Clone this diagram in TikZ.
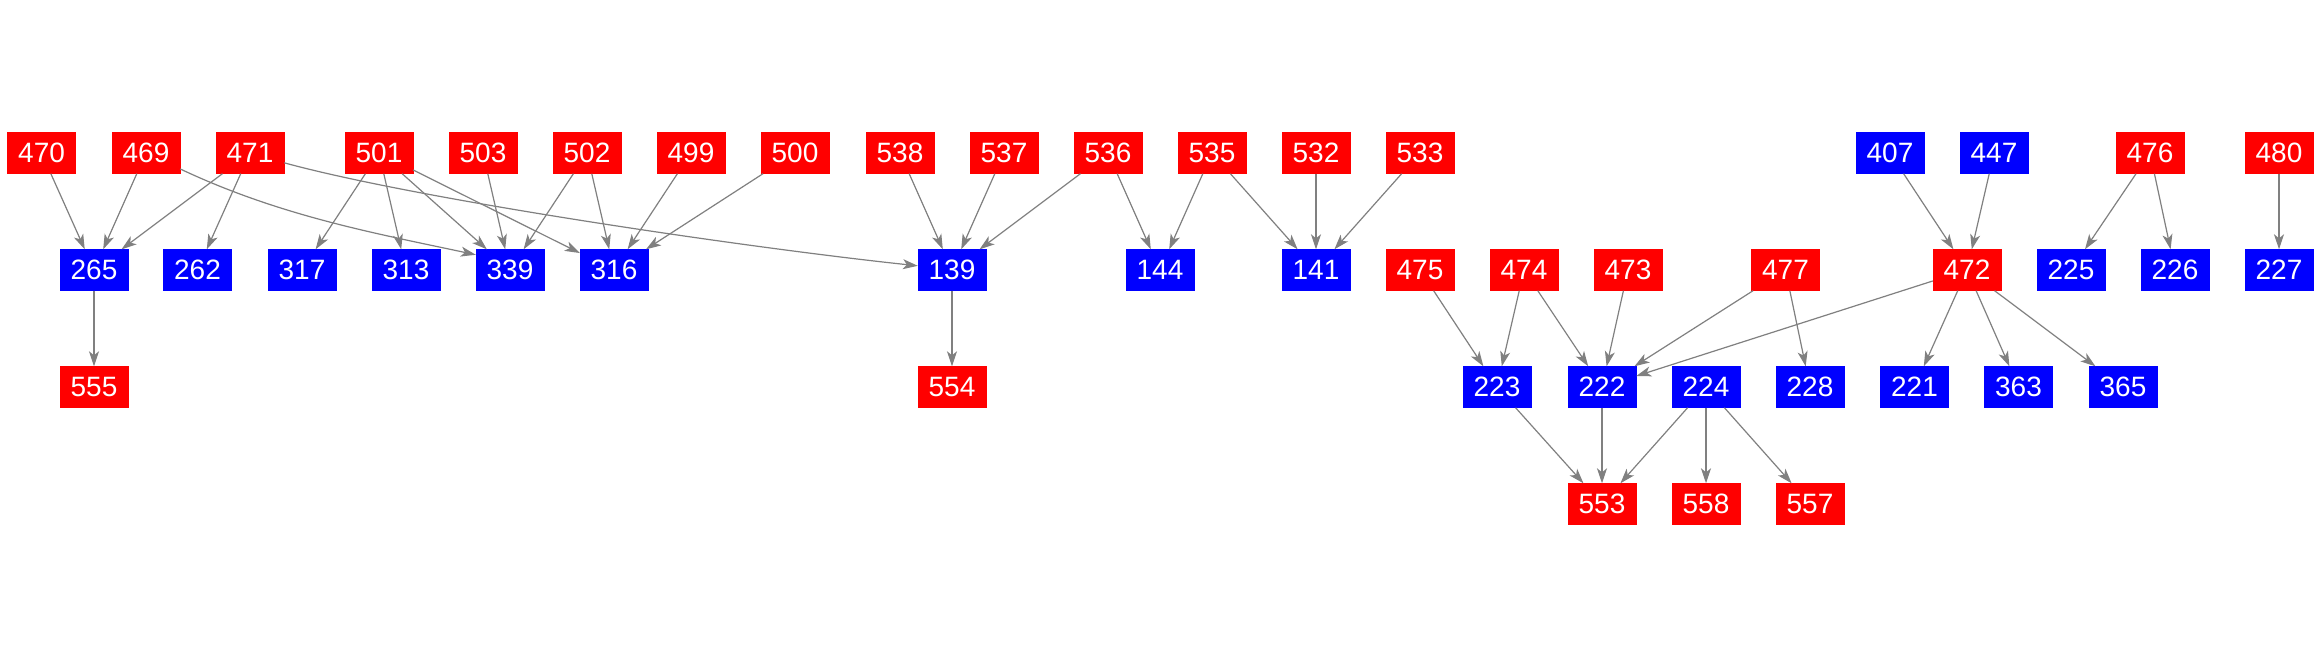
\documentclass[tikz,border=0pt]{standalone}
\usepackage{fontspec}
\setmainfont{Liberation Sans}
\usetikzlibrary{arrows.meta}
\tikzset{
  box/.style={minimum width=68pt, minimum height=41pt, inner sep=0pt, text=white, font=\fontsize{28}{28}\selectfont},
  rb/.style={box, fill=red, draw=red},
  bb/.style={box, fill=blue, draw=blue},
  e/.style={draw=gray, line width=1.2pt, -{Stealth[length=15pt,width=10pt,inset=4pt,fill=gray]}}
}
\begin{document}
\begin{tikzpicture}[x=1pt,y=-1pt]
\useasboundingbox[fill=white] (0,0) rectangle (2321,656);
% row 1
\node[rb] (n470) at (41.6,153) {470};
\node[rb] (n469) at (146,153) {469};
\node[rb] (n471) at (250,153) {471};
\node[rb] (n501) at (379,153) {501};
\node[rb] (n503) at (483,153) {503};
\node[rb] (n502) at (587,153) {502};
\node[rb] (n499) at (691,153) {499};
\node[rb] (n500) at (795,153) {500};
\node[rb] (n538) at (900,153) {538};
\node[rb] (n537) at (1004,153) {537};
\node[rb] (n536) at (1108,153) {536};
\node[rb] (n535) at (1212,153) {535};
\node[rb] (n532) at (1316,153) {532};
\node[rb] (n533) at (1420,153) {533};
\node[bb] (n407) at (1890,153) {407};
\node[bb] (n447) at (1994,153) {447};
\node[rb] (n476) at (2150,153) {476};
\node[rb] (n480) at (2279,153) {480};
% row 2
\node[bb] (n265) at (94,270) {265};
\node[bb] (n262) at (197.5,270) {262};
\node[bb] (n317) at (302,270) {317};
\node[bb] (n313) at (406,270) {313};
\node[bb] (n339) at (510,270) {339};
\node[bb] (n316) at (614,270) {316};
\node[bb] (n139) at (952,270) {139};
\node[bb] (n144) at (1160,270) {144};
\node[bb] (n141) at (1316,270) {141};
\node[rb] (n475) at (1420,270) {475};
\node[rb] (n474) at (1524,270) {474};
\node[rb] (n473) at (1628,270) {473};
\node[rb] (n477) at (1785.5,270) {477};
\node[rb] (n472) at (1967,270) {472};
\node[bb] (n225) at (2071,270) {225};
\node[bb] (n226) at (2175,270) {226};
\node[bb] (n227) at (2279,270) {227};
% row 3
\node[rb] (n555) at (94,387) {555};
\node[rb] (n554) at (952,387) {554};
\node[bb] (n223) at (1497,387) {223};
\node[bb] (n222) at (1602,387) {222};
\node[bb] (n224) at (1706,387) {224};
\node[bb] (n228) at (1810,387) {228};
\node[bb] (n221) at (1914.5,387) {221};
\node[bb] (n363) at (2018.5,387) {363};
\node[bb] (n365) at (2123,387) {365};
% row 4
\node[rb] (n553) at (1602,504) {553};
\node[rb] (n558) at (1706,504) {558};
\node[rb] (n557) at (1810,504) {557};
% edges
\draw[e] (n470) -- (n265);
\draw[e] (n469) -- (n265);
\draw[e] (n469.-25) .. controls (280,216) and (374,233) .. (n339.156);
\draw[e] (n471) -- (n265);
\draw[e] (n471) -- (n262);
\draw[e] (n471.-16) .. controls (420,200) and (750,248) .. (n139.173);
\draw[e] (n501) -- (n317);
\draw[e] (n501) -- (n313);
\draw[e] (n501) -- (n339);
\draw[e] (n501) -- (n316);
\draw[e] (n503) -- (n339);
\draw[e] (n502) -- (n339);
\draw[e] (n502) -- (n316);
\draw[e] (n499) -- (n316);
\draw[e] (n500) -- (n316);
\draw[e] (n265) -- (n555);
\draw[e] (n538) -- (n139);
\draw[e] (n537) -- (n139);
\draw[e] (n536) -- (n139);
\draw[e] (n536) -- (n144);
\draw[e] (n535) -- (n144);
\draw[e] (n535) -- (n141);
\draw[e] (n532) -- (n141);
\draw[e] (n533) -- (n141);
\draw[e] (n139) -- (n554);
\draw[e] (n475) -- (n223);
\draw[e] (n474) -- (n223);
\draw[e] (n474) -- (n222);
\draw[e] (n473) -- (n222);
\draw[e] (n477) -- (n222);
\draw[e] (n477) -- (n228);
\draw[e] (n472) -- (n222);
\draw[e] (n472) -- (n221);
\draw[e] (n472) -- (n363);
\draw[e] (n472) -- (n365);
\draw[e] (n407) -- (n472);
\draw[e] (n447) -- (n472);
\draw[e] (n476) -- (n225);
\draw[e] (n476) -- (n226);
\draw[e] (n480) -- (n227);
\draw[e] (n223) -- (n553);
\draw[e] (n222) -- (n553);
\draw[e] (n224) -- (n553);
\draw[e] (n224) -- (n558);
\draw[e] (n224) -- (n557);
\end{tikzpicture}
\end{document}
